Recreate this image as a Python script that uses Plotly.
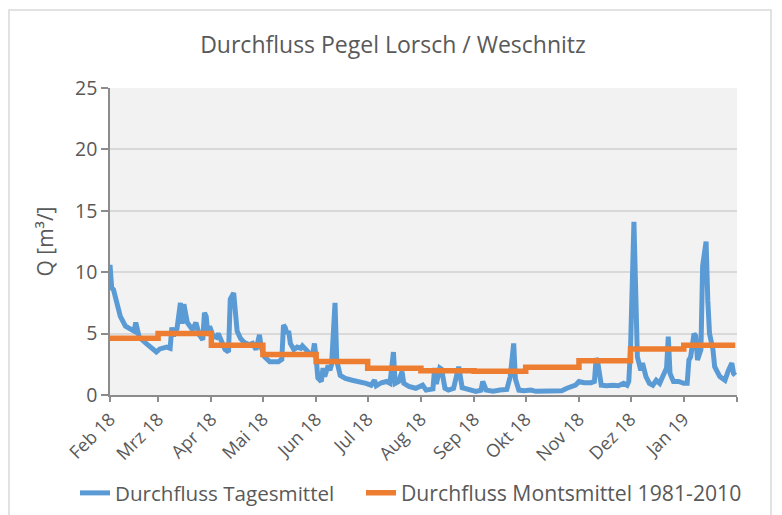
import pandas as pd
import plotly.graph_objects as go

start = pd.Timestamp("2018-02-01")

# Daily discharge (Tagesmittel): days since 2018-02-01 and value [m3/s]
daily_day = [0, 1, 2, 4, 6, 9, 12, 14, 15, 17, 21, 24, 27, 29, 33, 35, 36, 37, 39, 41,
             42, 43, 45, 48, 50, 52, 54, 55, 56, 57, 58, 60, 62, 63, 65, 67, 69, 70, 72, 73,
             74, 76, 78, 81, 83, 85, 87, 88, 90, 93, 95, 98, 100, 101, 102, 103, 104, 105, 107, 109,
             111, 112, 114, 116, 118, 119, 120, 121, 123, 124, 125, 127, 128, 129, 131, 132, 134, 137, 141, 145,
             149, 152, 154, 155, 158, 161, 163, 165, 166, 168, 170, 171, 174, 178, 182, 184, 188, 189, 190, 192,
             193, 195, 197, 200, 203, 205, 209, 213, 216, 217, 219, 223, 227, 231, 233, 235, 236, 238, 241, 245,
             248, 254, 259, 263, 266, 269, 271, 273, 276, 280, 282, 283, 284, 286, 289, 293, 296, 299, 301, 302,
             303, 305, 306, 307, 309, 310, 312, 314, 316, 318, 320, 322, 324, 325, 326, 328, 331, 334, 336, 337,
             338, 340, 341, 342, 344, 345, 347, 348, 349, 351, 352, 355, 358, 360, 362, 363, 364]
daily_q = [10.6, 8.7, 8.6, 7.4, 6.4, 5.6, 5.3, 5.2, 5.9, 4.7, 4.2, 3.8, 3.5, 3.75, 3.9, 3.8, 5.5, 4.8, 5.4, 7.5,
           5.8, 7.4, 5.9, 5.3, 5.9, 4.9, 4.5, 6.7, 6.4, 4.9, 5.6, 4.8, 4.7, 5.0, 4.3, 3.7, 3.5, 7.8, 8.3, 6.4,
           5.2, 4.6, 4.3, 4.1, 4.2, 3.7, 4.9, 3.9, 3.1, 2.7, 2.7, 2.7, 2.9, 5.7, 5.5, 5.0, 5.2, 4.2, 3.7, 3.9,
           3.8, 4.0, 3.7, 3.4, 3.3, 4.2, 3.0, 1.4, 1.1, 2.2, 1.5, 2.4, 2.0, 2.5, 7.5, 2.8, 1.6, 1.35, 1.2, 1.1,
           0.95, 0.8, 1.2, 0.75, 1.0, 1.1, 0.95, 3.5, 0.95, 1.1, 1.9, 0.95, 0.7, 0.55, 0.8, 0.4, 0.5, 2.2, 0.9, 2.2,
           2.1, 0.55, 0.4, 0.55, 2.3, 0.6, 0.4, 0.3, 0.4, 1.1, 0.4, 0.3, 0.4, 0.45, 1.5, 4.2, 1.3, 0.4, 0.35, 0.4,
           0.3, 0.3, 0.3, 0.35, 0.55, 0.7, 0.8, 1.1, 1.0, 1.0, 1.1, 3.0, 2.6, 0.8, 0.75, 0.8, 0.75, 0.95, 0.8, 1.1,
           3.7, 14.1, 6.4, 3.1, 2.0, 2.6, 1.5, 0.95, 0.8, 1.2, 0.95, 1.6, 2.2, 4.75, 1.75, 1.1, 1.1, 0.95, 0.95, 2.85,
           3.1, 5.0, 4.8, 2.85, 3.7, 10.5, 12.5, 7.7, 5.0, 3.7, 2.3, 1.5, 1.2, 2.0, 2.6, 1.75, 1.6]

# Long-term monthly mean 1981-2010 (Montsmittel)
month_starts = ["2018-02-01", "2018-03-01", "2018-04-01", "2018-05-01", "2018-06-01", "2018-07-01",
                "2018-08-01", "2018-09-01", "2018-10-01", "2018-11-01", "2018-12-01", "2019-01-01"]
monthly_q = [4.62, 5.0, 4.05, 3.3, 2.72, 2.17, 1.98, 1.93, 2.26, 2.78, 3.75, 4.05]

tick_dates = month_starts + ["2019-02-01"]
tick_labels = ["Feb 18", "Mrz 18", "Apr 18", "Mai 18", "Jun 18", "Jul 18", "Aug 18",
               "Sep 18", "Okt 18", "Nov 18", "Dez 18", "Jan 19", ""]

daily_dates = [start + pd.Timedelta(days=d) for d in daily_day]
orange_x = month_starts + ["2019-01-31"]
orange_y = monthly_q + [monthly_q[-1]]

FONT = "Open Sans"
TXT = "#595959"
AX = "#8C8C8C"

# page body adds an 8px offset; margins are set so the plot lands at x 110-737, y 88-395 on screen
ML, MT, PW, PH = 102, 80, 627, 307
W, H = 782, 515

fig = go.Figure()
fig.add_trace(go.Scatter(x=daily_dates, y=daily_q, mode="lines",
                         name="Durchfluss Tagesmittel", legend="legend",
                         line=dict(color="#5B9BD5", width=5)))
fig.add_trace(go.Scatter(x=orange_x, y=orange_y, mode="lines", line_shape="hv",
                         name="Durchfluss Montsmittel 1981-2010", legend="legend2",
                         line=dict(color="#ED7D31", width=5.5)))

leg_y = (395 - 493) / PH
fig.update_layout(
    width=W, height=H,
    margin=dict(l=ML, r=W - ML - PW, t=MT, b=H - MT - PH, autoexpand=False),
    paper_bgcolor="white", plot_bgcolor="#F2F2F2",
    font=dict(family=FONT, color=TXT),
    title=dict(text="Durchfluss Pegel Lorsch / Weschnitz", xref="container",
               x=(393 - 8) / W, xanchor="center",
               y=1 - 37 / H, yanchor="middle", font=dict(size=23, color=TXT)),
    showlegend=True,
    legend=dict(orientation="h", x=(75 - 110) / PW, xanchor="left",
                y=leg_y, yanchor="middle",
                font=dict(size=20.6, color=TXT), bgcolor="rgba(0,0,0,0)"),
    legend2=dict(orientation="h", x=(361 - 110) / PW, xanchor="left",
                 y=leg_y, yanchor="middle",
                 font=dict(size=21.2, color=TXT), bgcolor="rgba(0,0,0,0)"),
    xaxis=dict(type="date", range=["2018-02-01", "2019-02-01"],
               tickvals=tick_dates, ticktext=tick_labels, tickangle=-45,
               tickfont=dict(size=18, color=TXT),
               showgrid=False, showline=True, linecolor=AX, linewidth=1.5,
               ticks="outside", ticklen=5, tickcolor=AX, tickwidth=1.5, zeroline=False),
    yaxis=dict(range=[0, 25], tickvals=[0, 5, 10, 15, 20, 25],
               tickfont=dict(size=19.5, color=TXT),
               showgrid=True, gridcolor="#D9D9D9", gridwidth=1.5,
               showline=True, linecolor=AX, linewidth=1.5,
               ticks="outside", ticklen=7, tickcolor=AX, tickwidth=1.5, zeroline=False,
               title=dict(text="Q [m³/]", font=dict(size=21, color=TXT), standoff=16)),
    shapes=[dict(type="rect", xref="paper", yref="paper",
                 x0=(9 - 110) / PW, x1=(771 - 110) / PW,
                 y0=(395 - 530) / PH, y1=(395 - 10) / PH,
                 line=dict(color="#D9D9D9", width=1.5), fillcolor="rgba(0,0,0,0)", layer="below")],
)

fig.write_html("out.html")
